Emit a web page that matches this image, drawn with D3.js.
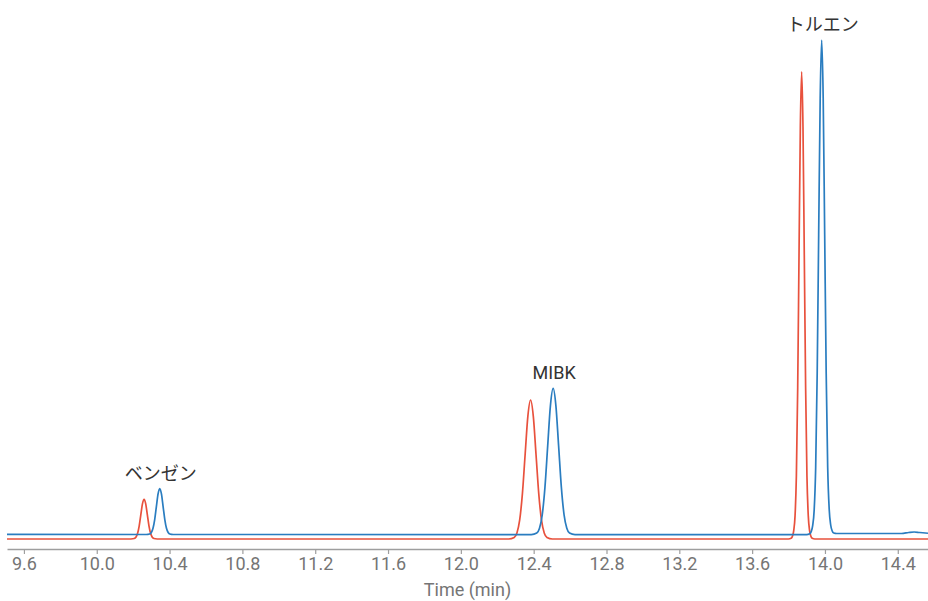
<!DOCTYPE html>
<html>
<head>
<meta charset="utf-8">
<script src="https://cdn.jsdelivr.net/npm/d3@7"></script>
<style>
  html, body { margin: 0; padding: 0; background: #fff; }
  svg { display: block; }
</style>
</head>
<body>
<svg id="chart" width="928" height="601"></svg>
<script>
// ---- Data ----
const timeDomain = [9.507, 14.566];
const signalDomain = [0, 100];
const tickValues = [9.6, 10.0, 10.4, 10.8, 11.2, 11.6, 12.0, 12.4, 12.8, 13.2, 13.6, 14.0, 14.4];
const axisTitle = "Time (min)";

// red trace [time (min), signal]
const redSeries = [
  [9.507, 0.0],
  [10.188, 0], [10.206, 0.09], [10.215, 0.35], [10.224, 1.08], [10.233, 2.58], [10.242, 4.82], [10.251, 7.02],
  [10.260, 7.95], [10.269, 7.02], [10.278, 4.82], [10.287, 2.58], [10.296, 1.08], [10.305, 0.35], [10.314, 0.09], [10.332, 0],
  [12.263, 0.0], [12.293, 0.31], [12.308, 1.22], [12.323, 3.76], [12.338, 9.03], [12.353, 16.86], [12.368, 24.53],
  [12.383, 27.8], [12.398, 24.53], [12.413, 16.86], [12.428, 9.03], [12.443, 3.76], [12.458, 1.22], [12.473, 0.31], [12.503, 0.0],
  [13.7995, 0], [13.814, 0.14], [13.8213, 0.56], [13.8285, 1.68], [13.8358, 4.67], [13.843, 12.64], [13.8503, 30.34],
  [13.8575, 56.68], [13.8648, 82.47], [13.872, 93.45], [13.8793, 82.47], [13.8865, 56.68], [13.8938, 30.34], [13.901, 12.64],
  [13.9083, 4.67], [13.9155, 1.68], [13.9228, 0.56], [13.930, 0.14], [13.9445, 0],
  [14.566, 0]
];

// blue trace [time (min), signal]
const blueSeries = [
  [9.507, 0.94],
  [10.272, 0.9], [10.2905, 1.0], [10.2998, 1.3], [10.309, 2.14], [10.3183, 3.89], [10.3275, 6.48], [10.3368, 9.02],
  [10.346, 10.1], [10.3553, 9.02], [10.3645, 6.48], [10.3738, 3.89], [10.383, 2.14], [10.3923, 1.3], [10.4015, 1.0], [10.420, 0.9],
  [12.387, 0.88], [12.417, 1.2], [12.432, 2.16], [12.447, 4.84], [12.462, 10.38], [12.477, 18.62], [12.492, 26.69],
  [12.507, 30.13], [12.522, 26.69], [12.537, 18.62], [12.552, 10.38], [12.567, 4.84], [12.582, 2.16], [12.597, 1.2], [12.627, 0.88],
  [13.8995, 0.88], [13.916, 1.03], [13.9243, 1.47], [13.9325, 2.66], [13.9408, 5.83], [13.949, 14.26], [13.9573, 32.99],
  [13.9655, 60.86], [13.9738, 88.16], [13.982, 99.8], [13.9903, 88.2], [13.9985, 60.9], [14.0068, 33.05], [14.015, 14.35],
  [14.0233, 5.95], [14.0315, 2.8], [14.0398, 1.6], [14.048, 1.2], [14.0645, 1.1],
  [14.42, 1.1], [14.46, 1.3], [14.49, 1.4], [14.52, 1.3], [14.566, 1.15]
];

// peak labels (placed above the blue apex)
const peakNames = ["ベンゼン", "MIBK", "トルエン"];
const peakTimes = [10.346, 12.507, 13.982];
const peakSignals = [10.1, 30.13, 99.8];

// ---- Drawing ----
const svg = d3.select("#chart");
const x = d3.scaleLinear().domain(timeDomain).range([7, 928]);
const y = d3.scaleLinear().domain(signalDomain).range([539, 39]);

const line = d3.line()
  .x(d => x(d[0]))
  .y(d => y(d[1]))
  .curve(d3.curveMonotoneX);

svg.append("path")
  .datum(redSeries)
  .attr("fill", "none")
  .attr("stroke", "#e8513d")
  .attr("stroke-width", 1.7)
  .attr("stroke-linejoin", "round")
  .attr("d", line);

svg.append("path")
  .datum(blueSeries)
  .attr("fill", "none")
  .attr("stroke", "#2a7dc0")
  .attr("stroke-width", 1.7)
  .attr("stroke-linejoin", "round")
  .attr("d", line);

// axis
const axis = d3.axisBottom(x)
  .tickValues(tickValues)
  .tickFormat(d3.format(".1f"))
  .tickSize(5)
  .tickSizeOuter(0)
  .tickPadding(3);

const gx = svg.append("g")
  .attr("transform", "translate(0,549)")
  .call(axis);
gx.select(".domain").attr("stroke", "#9e9e9e").attr("stroke-width", 1.5);
gx.selectAll(".tick line").attr("stroke", "#9e9e9e").attr("stroke-width", 1.2);
gx.selectAll(".tick text")
  .attr("fill", "#757575")
  .style("font-family", "Roboto, 'Noto Sans', sans-serif")
  .style("font-size", "18px");

svg.append("text")
  .attr("x", (7 + 928) / 2)
  .attr("y", 596)
  .attr("text-anchor", "middle")
  .attr("fill", "#757575")
  .style("font-family", "Roboto, 'Noto Sans', sans-serif")
  .style("font-size", "18px")
  .text(axisTitle);

// peak labels
svg.selectAll("text.peak")
  .data(peakNames)
  .enter().append("text")
  .attr("class", "peak")
  .attr("x", (d, i) => x(peakTimes[i]) + 1)
  .attr("y", (d, i) => y(peakSignals[i]) - 9)
  .attr("text-anchor", "middle")
  .attr("fill", "#333")
  .style("font-family", "Roboto, 'Noto Sans CJK JP', sans-serif")
  .style("font-size", "18px")
  .text(d => d);
</script>
</body>
</html>
